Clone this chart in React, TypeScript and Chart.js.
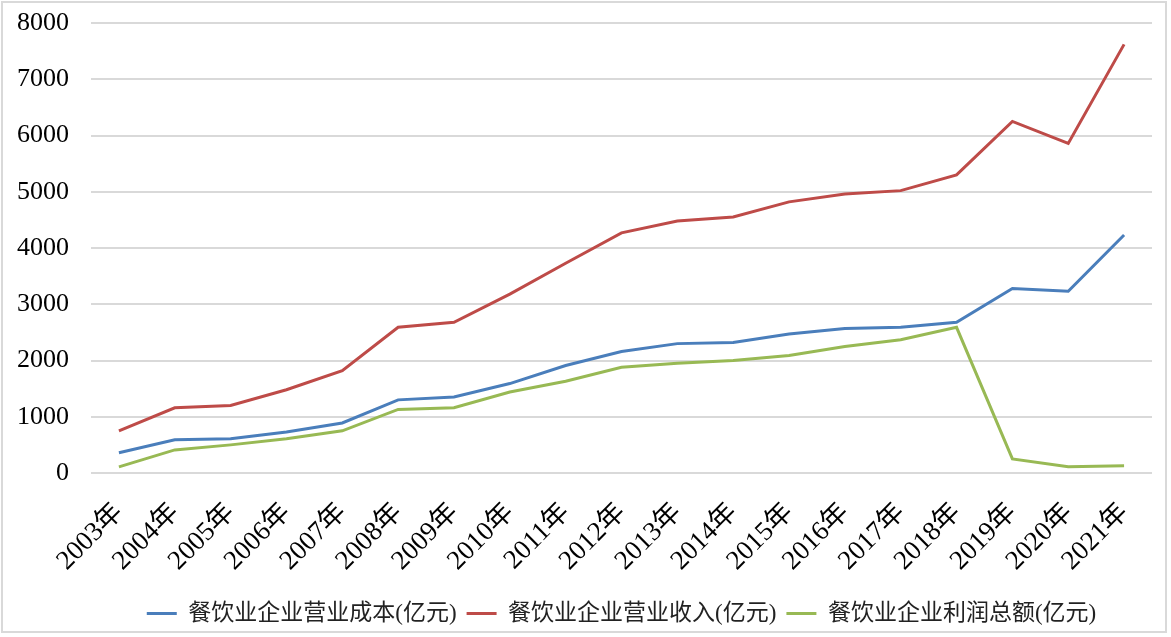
import React, { useEffect, useRef } from "react";
import { Chart, registerables } from "chart.js";

Chart.register(...registerables);

const years = ["2003年","2004年","2005年","2006年","2007年","2008年","2009年","2010年","2011年","2012年","2013年","2014年","2015年","2016年","2017年","2018年","2019年","2020年","2021年"];
const costValues = [360,590,610,730,890,1300,1350,1590,1910,2160,2300,2320,2470,2570,2590,2680,3280,3230,4230];
const revenueValues = [750,1160,1200,1480,1820,2590,2680,3180,3730,4270,4480,4550,4820,4960,5020,5300,6250,5860,7620];
const profitValues = [110,410,500,610,750,1130,1160,1440,1630,1880,1950,2000,2090,2250,2370,2590,250,110,130];
const seriesNames = ["餐饮业企业营业成本(亿元)", "餐饮业企业营业收入(亿元)", "餐饮业企业利润总额(亿元)"];
const yTicks = [0,1000,2000,3000,4000,5000,6000,7000,8000];

const FONT = '"Liberation Serif", "Noto Sans CJK SC", serif';

export default function App() {
  const ref = useRef<HTMLCanvasElement | null>(null);
  useEffect(() => {
    if (!ref.current) return;
    const mk = (label: string, data: number[], color: string) => ({
      label, data, borderColor: color, backgroundColor: color,
      borderWidth: 3, pointRadius: 0, pointHoverRadius: 0, tension: 0, fill: false,
    });
    const chart = new Chart(ref.current, {
      type: "line",
      data: {
        labels: years,
        datasets: [
          mk(seriesNames[0], costValues, "#4A7EBB"),
          mk(seriesNames[1], revenueValues, "#BE4B48"),
          mk(seriesNames[2], profitValues, "#98B954"),
        ],
      },
      options: {
        animation: false,
        responsive: false,
        maintainAspectRatio: false,
        layout: { padding: { left: 17, right: 19, top: 23, bottom: 2 } },
        plugins: {
          legend: {
            position: "bottom",
            fullSize: false,
            labels: {
              usePointStyle: true,
              pointStyle: "line",
              pointStyleWidth: 30,
              color: "#222",
              font: { family: FONT, size: 23 },
              padding: 10,
            },
          },
          tooltip: { enabled: false },
        },
        scales: {
          x: {
            offset: true,
            grid: { display: false, drawTicks: false },
            border: { display: false },
            afterFit: (axis: any) => { axis.paddingLeft = 0; axis.paddingRight = 0; axis.height = 119; },
            ticks: {
              minRotation: 45, maxRotation: 45, autoSkip: false,
              color: "#000", font: { family: FONT, size: 27 }, padding: 24,
            },
          },
          y: {
            min: 0, max: 8000,
            afterBuildTicks: (axis: any) => { axis.ticks = yTicks.map((v) => ({ value: v })); },
            afterFit: (axis: any) => { axis.paddingTop = 0; axis.paddingBottom = 0; axis.width = 74; },
            grid: { color: "#D9D9D9", lineWidth: 2, drawTicks: false },
            border: { display: false },
            ticks: {
              color: "#000", font: { family: FONT, size: 26 }, padding: 22,
              callback: (v: any) => String(v),
            },
          },
        },
      },
    });
    return () => chart.destroy();
  }, []);
  return (
    <div style={{ position: "fixed", left: 0, top: 0, width: 1171, height: 637, background: "#fff" }}>
      <div style={{ position: "absolute", left: 1, top: 1, width: 1166, height: 632, border: "2px solid #D9D9D9", boxSizing: "border-box" }} />
      <canvas ref={ref} width={1171} height={637} style={{ position: "absolute", left: 0, top: 0 }} />
    </div>
  );
}
